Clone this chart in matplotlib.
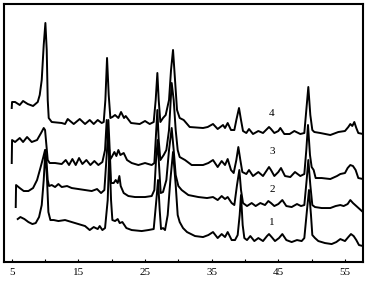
"""XRD patterns of samples 1-4, stacked, redrawn from the figure."""
import matplotlib
matplotlib.use("Agg")
import matplotlib.pyplot as plt
from matplotlib.ticker import MultipleLocator

# 2-theta (deg) and intensity (arb. units)
theta_4 = [5.0, 5.05, 5.5, 6.2, 6.7, 7.4, 8.2, 8.9, 9.2, 9.5, 9.8, 10.05, 10.25,
           10.4, 10.55, 11.0, 12.5, 13.0, 13.4, 14.3, 15.2, 16.0, 16.7, 17.3,
           17.9, 18.5, 18.8, 19.05, 19.3, 19.55, 19.8, 20.1, 20.5, 21.0, 21.4,
           21.85, 22.1, 22.9, 24.2, 25.0, 25.7, 26.3, 26.6, 26.85, 27.05, 27.3,
           27.7, 28.1, 28.6, 28.9, 29.2, 29.5, 29.8, 30.2, 30.8, 31.7, 33.7,
           34.4, 35.2, 35.9, 36.7, 37.0, 37.4, 37.9, 38.4, 38.7, 39.1, 39.4,
           39.7, 40.2, 40.6, 41.2, 42.0, 42.7, 43.3, 43.6, 43.9, 44.4, 45.0,
           45.3, 45.9, 46.7, 47.4, 48.3, 48.9, 49.2, 49.5, 49.8, 50.1, 50.4,
           51.3, 52.8, 54.0, 55.0, 55.5, 55.8, 56.1, 56.4, 56.7, 57.0, 57.7]
inten_4 = [154, 160, 160, 157, 161, 158, 156, 160, 167, 182, 217, 239, 212,
           162, 144, 140, 139, 138, 143, 138, 143, 138, 142, 138,
           142, 139, 140, 162, 204, 167, 144, 145, 147, 144, 150,
           144, 146, 139, 138, 141, 138, 140, 162, 189, 162, 140,
           144, 147, 162, 192, 212, 182, 152, 144, 142, 135, 134,
           135, 138, 133, 137, 134, 139, 132, 132, 142, 154, 142,
           131, 129, 133, 128, 131, 129, 133, 135, 133, 129, 131,
           134, 128, 128, 131, 128, 129, 152, 175, 147, 132, 130,
           129, 127, 130, 131, 135, 138, 136, 140, 134, 129, 128]

theta_3 = [5.0, 5.05, 5.5, 6.2, 6.7, 7.3, 8.0, 8.8, 9.4, 9.8, 10.0, 10.2, 10.4,
           10.7, 11.5, 12.5, 13.1, 13.6, 14.1, 14.6, 15.1, 15.6, 16.2, 16.8,
           17.4, 18.0, 18.6, 19.0, 19.25, 19.5, 19.7, 20.0, 20.4, 20.7, 21.0,
           21.3, 21.8, 22.3, 23.0, 24.0, 25.0, 26.0, 26.4, 26.6, 26.85, 27.05,
           27.3, 27.8, 28.2, 28.6, 29.0, 29.3, 29.6, 29.9, 30.2, 31.0, 32.0,
           33.7, 34.5, 35.2, 35.9, 36.5, 37.0, 37.4, 37.9, 38.3, 38.7, 39.0,
           39.3, 39.6, 40.2, 40.6, 41.2, 42.0, 42.7, 43.3, 43.6, 43.9, 44.4,
           45.0, 45.4, 46.0, 46.8, 47.5, 48.3, 48.9, 49.2, 49.45, 49.75, 50.0,
           50.3, 50.6, 51.5, 52.8, 53.8, 54.3, 55.0, 55.4, 55.8, 56.2, 56.6,
           57.0, 57.7]
inten_3 = [99, 122, 120, 124, 120, 125, 120, 122, 129, 134, 132, 117, 102,
           99, 99, 98, 102, 97, 103, 97, 104, 98, 102, 97,
           101, 97, 100, 112, 142, 112, 102, 105, 110, 106, 112,
           107, 109, 102, 99, 97, 99, 97, 99, 122, 152, 122,
           102, 107, 112, 132, 179, 162, 132, 112, 105, 102, 97,
           97, 99, 102, 95, 101, 97, 103, 92, 89, 102, 115,
           102, 90, 88, 92, 86, 90, 86, 92, 95, 92, 86,
           90, 94, 86, 85, 90, 86, 88, 112, 137, 107, 95,
           92, 84, 84, 83, 86, 88, 89, 94, 97, 96, 92,
           84, 83]

theta_2 = [5.6, 5.65, 6.2, 6.8, 7.5, 8.2, 8.8, 9.3, 9.7, 10.0, 10.2, 10.4, 10.6,
           11.0, 11.5, 12.0, 12.5, 13.3, 14.0, 15.0, 16.0, 17.0, 17.8, 18.4,
           18.9, 19.3, 19.5, 19.7, 19.9, 20.3, 20.6, 20.9, 21.15, 21.35, 21.8,
           22.5, 23.5, 25.0, 26.0, 26.4, 26.65, 26.9, 27.1, 27.35, 27.7, 28.2,
           28.6, 29.0, 29.3, 29.6, 30.0, 30.5, 31.5, 33.0, 34.3, 35.2, 35.9,
           36.5, 37.0, 37.4, 38.0, 38.4, 38.8, 39.15, 39.4, 39.7, 40.3, 41.0,
           41.6, 42.3, 43.0, 43.5, 43.9, 44.4, 45.0, 45.6, 46.2, 47.0, 47.8,
           48.4, 48.9, 49.25, 49.5, 49.8, 50.1, 50.5, 51.5, 52.8, 53.6, 54.3,
           54.8, 55.4, 55.8, 56.2, 56.7, 57.2, 57.7]
inten_2 = [55, 77, 74, 71, 71, 74, 82, 94, 104, 112, 102, 82, 76,
           77, 75, 78, 75, 76, 74, 73, 72, 71, 73, 69,
           72, 112, 142, 112, 79, 79, 82, 79, 86, 76, 69,
           66, 65, 65, 66, 72, 102, 122, 97, 69, 70, 82,
           112, 134, 112, 87, 76, 72, 67, 65, 64, 65, 62,
           66, 63, 65, 59, 57, 77, 92, 72, 59, 56, 59,
           56, 59, 57, 61, 59, 56, 58, 62, 56, 55, 58,
           56, 57, 82, 102, 77, 57, 55, 54, 54, 56, 57,
           56, 58, 62, 59, 56, 53, 50]

theta_1 = [5.9, 6.3, 6.9, 7.5, 8.1, 8.6, 9.1, 9.5, 9.8, 10.05, 10.3, 10.5, 10.8,
           11.3, 12.0, 13.0, 14.0, 15.0, 16.0, 16.7, 17.3, 17.9, 18.2, 18.6,
           19.0, 19.4, 19.65, 19.9, 20.1, 20.5, 20.9, 21.2, 21.6, 22.2, 23.0,
           24.5, 25.5, 26.3, 26.7, 26.95, 27.2, 27.4, 27.7, 28.0, 28.4, 28.8,
           29.2, 29.6, 29.9, 30.2, 30.7, 31.3, 32.5, 33.7, 34.5, 35.2, 35.9,
           36.5, 37.0, 37.4, 38.0, 38.5, 38.9, 39.2, 39.4, 39.65, 39.9, 40.3,
           40.8, 41.4, 42.0, 42.7, 43.3, 43.6, 44.0, 44.5, 45.1, 45.6, 46.2,
           47.0, 47.8, 48.5, 48.9, 49.3, 49.6, 49.9, 50.1, 50.5, 51.0, 52.0,
           53.0, 53.7, 54.3, 55.0, 55.5, 55.9, 56.3, 56.7, 57.1, 57.7]
inten_1 = [43, 45, 43, 40, 38, 39, 45, 57, 82, 112, 82, 50, 42,
           42, 41, 42, 40, 38, 36, 32, 35, 33, 36, 32,
           34, 62, 112, 62, 42, 41, 43, 39, 40, 34, 32,
           31, 32, 33, 62, 82, 52, 33, 34, 32, 47, 82,
           110, 77, 47, 40, 34, 30, 26, 25, 27, 30, 24,
           28, 25, 30, 22, 22, 27, 47, 67, 37, 24, 22,
           26, 21, 24, 21, 26, 28, 25, 21, 24, 28, 22,
           20, 22, 21, 24, 52, 72, 47, 27, 24, 21, 19,
           18, 20, 23, 21, 25, 28, 26, 22, 17, 16]

traces = [(theta_1, inten_1), (theta_2, inten_2),
          (theta_3, inten_3), (theta_4, inten_4)]
sample_labels = ["1", "2", "3", "4"]
label_theta = 44.05
label_inten = [40, 73, 111, 149]

x_ticks = [5, 15, 25, 35, 45, 55]

plt.rcParams["font.family"] = ["Liberation Serif", "DejaVu Serif"]

fig = plt.figure(figsize=(3.70, 2.83), dpi=100)
ax = fig.add_axes([0.011, 0.074, 0.970, 0.912])

for th, inten in traces:
    ax.plot(th, inten, color="black", lw=1.4, solid_joinstyle="round")

for lab, yy in zip(sample_labels, label_inten):
    ax.text(label_theta, yy, lab, ha="center", va="center", fontsize=8)

ax.set_xlim(3.85, 57.7)
ax.set_ylim(0, 258)
ax.set_xticks(x_ticks)
ax.xaxis.set_minor_locator(MultipleLocator(5))
ax.tick_params(axis="x", which="both", direction="in", length=2.5,
               width=0.8, labelsize=8, pad=4)
ax.set_yticks([])
for sp in ax.spines.values():
    sp.set_linewidth(1.5)

fig.savefig("out.png", dpi=100)
